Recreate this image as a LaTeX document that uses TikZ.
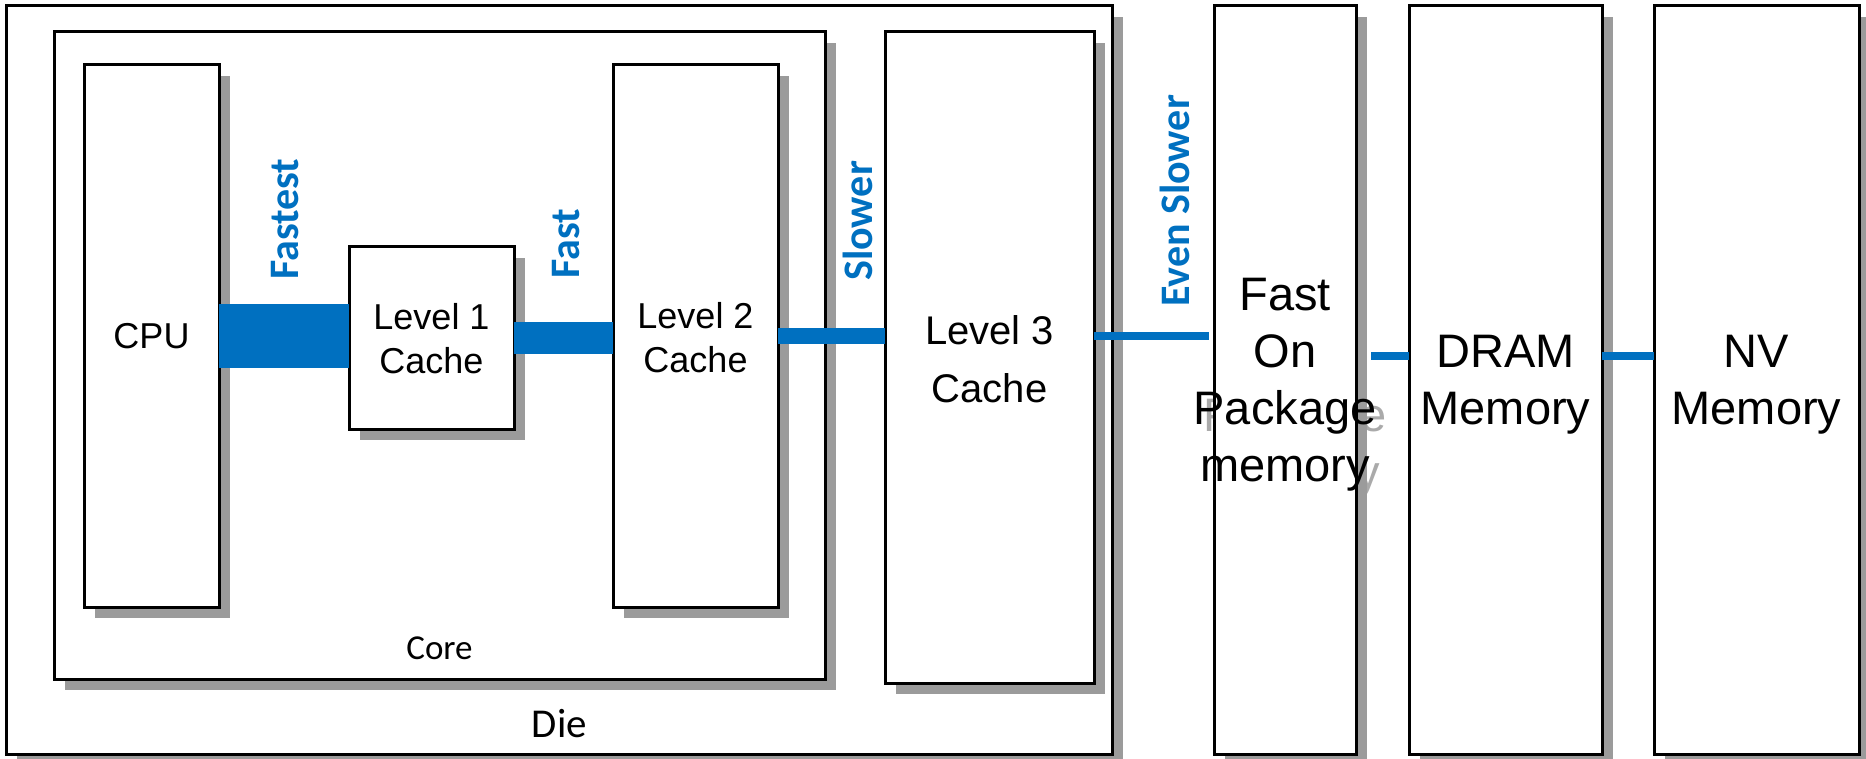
\documentclass[tikz,border=0pt]{standalone}
\usepackage{fontspec}
\setmainfont{Liberation Sans}
\newfontfamily\calib{Carlito}
\usetikzlibrary{calc,shadows}
\definecolor{barblue}{RGB}{0,112,192}
\definecolor{shadowc}{RGB}{155,155,155}
\definecolor{ghostc}{RGB}{170,170,170}
\begin{document}
\begin{tikzpicture}[x=1pt,y=-1pt,
  box/.style={draw=black, line width=3pt, fill=white, inner sep=0pt, outer sep=0pt,
    drop shadow={shadow xshift=11pt, shadow yshift=-11pt, opacity=1, fill=shadowc}},
  lblA/.style={font=\fontsize{36}{44}\selectfont, align=center, inner sep=0pt},
  lblB/.style={font=\fontsize{40}{58}\selectfont, align=center, inner sep=0pt},
  lblC/.style={font=\fontsize{47}{57}\selectfont, align=center, inner sep=0pt},
  spd/.style={text=barblue, font=\calib\bfseries\fontsize{42}{50}\selectfont, rotate=90, anchor=base west, inner sep=0pt},
  bar/.style={draw=barblue, line cap=butt}
]
\useasboundingbox[fill=white] (0,0) rectangle (1866,759);

% die and core
\node[box, minimum width=1106pt, minimum height=748pt] (die) at (559,380) {};
\node[box, minimum width=771pt, minimum height=647pt] (core) at (439.5,355.5) {};
\node[box, minimum width=135pt, minimum height=542pt] (cpu) at (151.5,336) {};
\node[box, minimum width=165pt, minimum height=182pt] (l1) at (431.5,338) {};
\node[box, minimum width=165pt, minimum height=542pt] (l2) at (695.5,336) {};
\node[box, minimum width=209pt, minimum height=651pt] (l3) at (989.5,357.5) {};

% off-die memories
\node[lblC, text=ghostc] (fastghost) at (1295,392) {Fast\\On\\Package\\memory};
\node[box, minimum width=142pt, minimum height=748pt] (fast) at (1285,380) {};
\node[box, minimum width=193pt, minimum height=748pt] (dram) at (1505.5,380) {};
\node[box, minimum width=205pt, minimum height=748pt] (nv) at (1756.5,380) {};

% box texts
\node[lblA] (cput) at (cpu.center) {CPU};
\node[lblA] (l1t) at ([yshift=-1pt]l1.center) {Level 1\\Cache};
\node[lblA] (l2t) at ([yshift=-2pt]l2.center) {Level 2\\Cache};
\node[lblB] (l3t) at ([yshift=-2pt]l3.center) {Level 3\\Cache};
\node[lblC] (fastt) at ([yshift=-5pt]fast.center) {Fast\\On\\Package\\memory};
\node[lblC] (dramt) at ([yshift=-5pt]dram.center) {DRAM\\Memory};
\node[lblC] (nvt) at ([yshift=-5pt]nv.center) {NV\\Memory};
\node[font=\calib\fontsize{35}{42}\selectfont, anchor=base, inner sep=0pt] (coret) at (439.5,659) {Core};
\node[font=\calib\fontsize{41}{48}\selectfont, anchor=base, inner sep=0pt] (diet) at (559.5,737) {Die};

% connectors
\draw[bar, line width=64pt] (cpu.east) -- (cpu.east -| l1.west);
\draw[bar, line width=31pt] (l1.east) -- (l1.east -| l2.west);
\draw[bar, line width=16pt] (l2.east) -- (l2.east -| l3.west);
\coordinate (esend) at ($(fast.west |- l2.east)+(-5,0)$);
\draw[bar, line width=8pt] (l3.east |- l2.east) -- (esend);
\coordinate (m1) at ($(fast.east)+(15,-24)$);
\draw[bar, line width=8pt] (m1) -- (m1 -| dram.west);
\draw[bar, line width=8pt] (dram.east |- m1) -- (m1 -| nv.west);

% speed labels
\node[spd] (lfastest) at (298,280) {Fastest};
\node[spd] (lfast) at (579,279) {Fast};
\node[spd] (lslower) at (872,281) {Slower};
\node[spd] (leven) at (1189,307) {Even Slower};
\end{tikzpicture}
\end{document}
